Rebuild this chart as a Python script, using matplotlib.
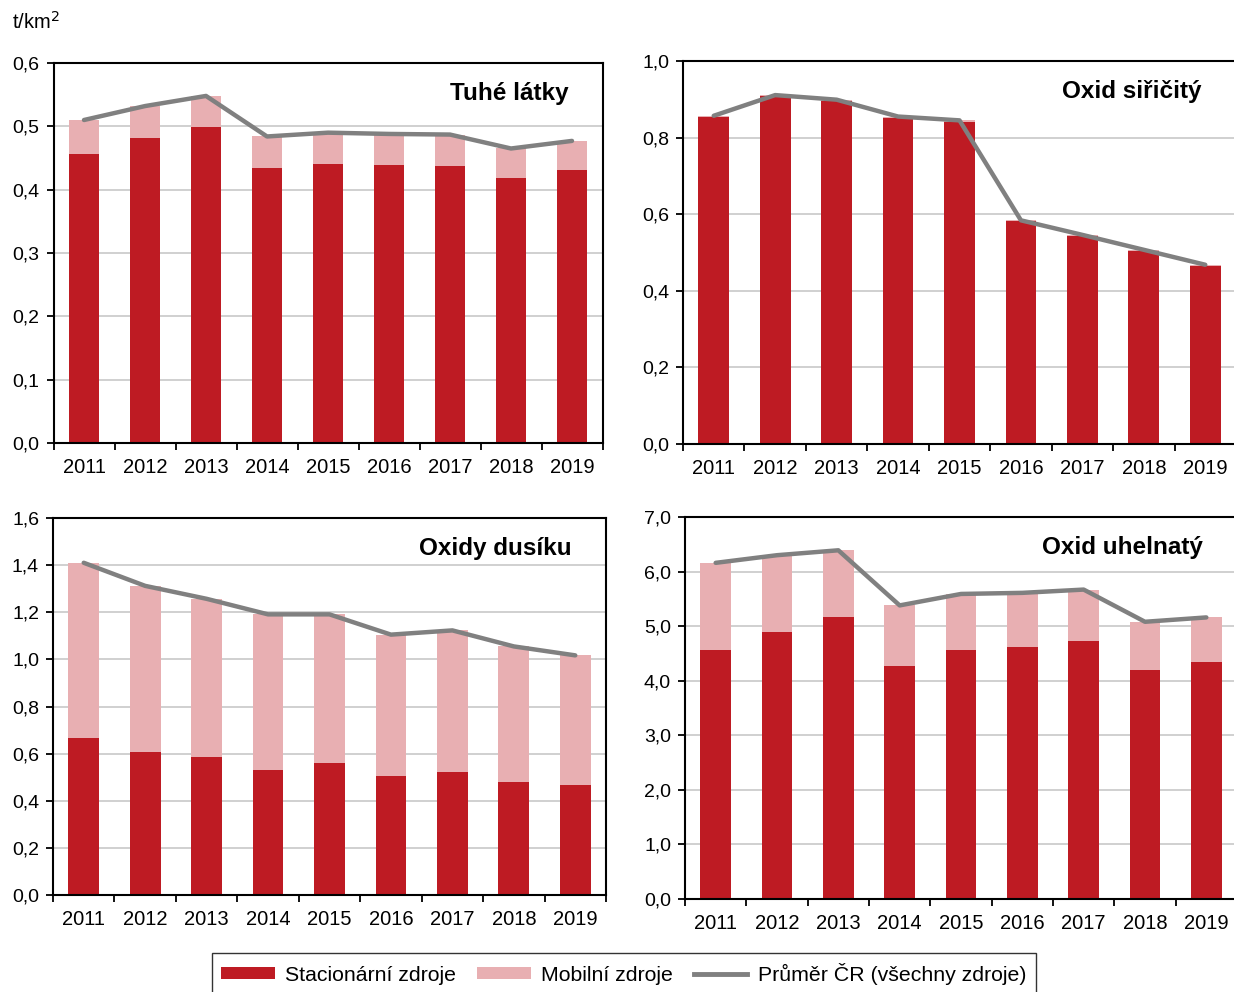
import matplotlib
matplotlib.use("Agg")
import matplotlib.pyplot as plt
import numpy as np
from matplotlib.patches import Patch
from matplotlib.lines import Line2D
from matplotlib.ticker import FuncFormatter, MultipleLocator

plt.rcParams['font.family'] = ['Liberation Sans', 'DejaVu Sans']

years = ['2011', '2012', '2013', '2014', '2015', '2016', '2017', '2018', '2019']

# Tuhé látky
tzl_stac = [0.456, 0.482, 0.499, 0.435, 0.441, 0.439, 0.438, 0.418, 0.431]
tzl_total = [0.510, 0.532, 0.548, 0.484, 0.490, 0.488, 0.487, 0.465, 0.477]
# Oxid siřičitý
so2_stac = [0.854, 0.908, 0.896, 0.852, 0.842, 0.581, 0.543, 0.504, 0.465]
so2_total = [0.857, 0.911, 0.899, 0.855, 0.845, 0.584, 0.546, 0.507, 0.468]
# Oxidy dusíku
nox_stac = [0.668, 0.606, 0.586, 0.532, 0.562, 0.503, 0.521, 0.480, 0.466]
nox_total = [1.410, 1.312, 1.257, 1.191, 1.191, 1.105, 1.123, 1.055, 1.017]
# Oxid uhelnatý
co_stac = [4.57, 4.89, 5.17, 4.27, 4.56, 4.61, 4.72, 4.19, 4.35]
co_total = [6.16, 6.30, 6.39, 5.38, 5.59, 5.61, 5.67, 5.08, 5.16]

titles = ['Tuhé látky', 'Oxid siřičitý', 'Oxidy dusíku', 'Oxid uhelnatý']
legend_labels = ['Stacionární zdroje', 'Mobilní zdroje', 'Průměr ČR (všechny zdroje)']

RED = '#BE1B23'
PINK = '#E8AFB2'
GRAY = '#808080'

fig = plt.figure(figsize=(12.34, 9.92), dpi=100)
W, H = 1234, 992

def rect(l, r, t, b):
    return [l / W, 1 - b / H, (r - l) / W, (b - t) / H]

panels = [
    (rect(53.5, 602.5, 63, 443), tzl_stac, tzl_total, 0.6, 0.1),
    (rect(683, 1236, 61, 444), so2_stac, so2_total, 1.0, 0.2),
    (rect(53, 606, 518, 895), nox_stac, nox_total, 1.6, 0.2),
    (rect(685, 1237, 517, 899), co_stac, co_total, 7.0, 1.0),
]

x = np.arange(len(years))
for (pos, stac, total, ymax, step), title in zip(panels, titles):
    ax = fig.add_axes(pos)
    stac = np.array(stac)
    total = np.array(total)
    mob = total - stac
    ax.bar(x, stac, width=0.5, color=RED, zorder=2)
    ax.bar(x, mob, width=0.5, bottom=stac, color=PINK, zorder=2)
    ax.plot(x, total, color=GRAY, lw=3.2, zorder=3, solid_capstyle='round')
    ax.set_xlim(-0.5, len(years) - 0.5)
    ax.set_ylim(0, ymax)
    ax.yaxis.set_major_locator(MultipleLocator(step))
    ax.yaxis.set_major_formatter(FuncFormatter(lambda v, p: f"{v:.1f}".replace('.', ',')))
    ax.grid(axis='y', color='#C8C8C8', lw=1.2, zorder=0)
    ax.set_axisbelow(True)
    ax.set_xticks(x)
    ax.set_xticklabels(years)
    ax.set_xticks(np.arange(-0.5, len(years)), minor=True)
    ax.tick_params(axis='x', which='major', length=0, pad=11, labelsize=14.5)
    ax.tick_params(axis='x', which='minor', length=5, width=1.3, direction='out')
    ax.tick_params(axis='y', which='major', length=5, width=1.3, direction='out', labelsize=14, pad=5)
    for s in ax.spines.values():
        s.set_linewidth(1.5)
        s.set_color('black')
    ax.text(0.938, 0.92, title, transform=ax.transAxes, ha='right', va='center',
            fontsize=17.5, fontweight='bold')

fig.text(12 / W, 1 - 22 / H, 't/km$^2$', ha='left', va='center', fontsize=14.5)

handles = [Patch(facecolor=RED, edgecolor='none'),
           Patch(facecolor=PINK, edgecolor='none'),
           Line2D([0], [0], color=GRAY, lw=3.5)]
leg = fig.legend(handles, legend_labels, loc='upper center', bbox_to_anchor=(624 / W, 1 - 953 / H),
                 ncol=3, frameon=True, fontsize=15.3, handlelength=2.5, handleheight=0.55,
                 columnspacing=1.0, handletextpad=0.5, borderpad=0.45, borderaxespad=0.0,
                 fancybox=False)
leg.get_frame().set_edgecolor('black')
leg.get_frame().set_linewidth(1.0)

fig.savefig('out.png', dpi=100)
